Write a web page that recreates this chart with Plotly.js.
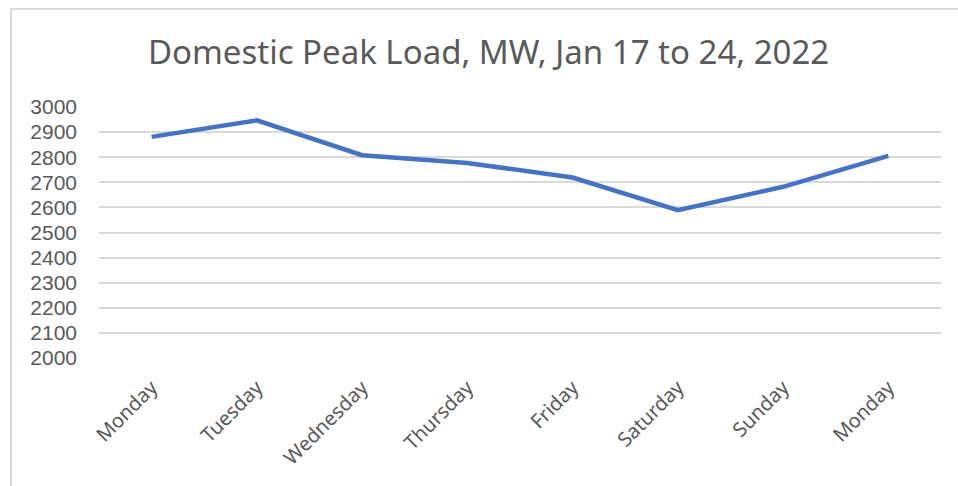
<!DOCTYPE html>
<html>
<head>
<meta charset="utf-8">
<script src="https://cdn.plot.ly/plotly-3.0.1.min.js"></script>
<style>
  html, body { margin: 0; padding: 0; width: 958px; height: 486px; overflow: hidden; background: #fff; }
  #chart { position: absolute; left: 0; top: 0; width: 958px; height: 486px; }
  #frame { position: absolute; left: 10px; top: 8px; width: 1100px; height: 700px; border: 2px solid #d9d9d9; pointer-events: none; box-sizing: border-box; }
</style>
</head>
<body>
<div id="chart"></div>
<div id="frame"></div>
<script>
const days = ["Monday", "Tuesday", "Wednesday", "Thursday", "Friday", "Saturday", "Sunday", "Monday"];
const peakLoad = [2881, 2947, 2808, 2777, 2719, 2589, 2682, 2805];
const yTicks = [2000, 2100, 2200, 2300, 2400, 2500, 2600, 2700, 2800, 2900, 3000];
const chartTitle = "Domestic Peak Load, MW, Jan 17 to 24, 2022";

const xIdx = days.map((d, i) => i);

const trace = {
  x: xIdx,
  y: peakLoad,
  type: "scatter",
  mode: "lines",
  line: { color: "#4472C4", width: 4.5 },
  hoverinfo: "skip"
};

const layout = {
  width: 958,
  height: 486,
  paper_bgcolor: "rgba(0,0,0,0)",
  plot_bgcolor: "#ffffff",
  margin: { l: 99, r: 17, t: 107, b: 128 },
  font: { family: "Noto Sans, sans-serif", color: "#595959", size: 21 },
  title: {
    text: chartTitle,
    font: { family: "Noto Sans, sans-serif", size: 33, color: "#595959" },
    x: 0.51,
    xref: "container",
    xanchor: "center",
    y: 1 - 52 / 486,
    yref: "container",
    yanchor: "middle"
  },
  showlegend: false,
  xaxis: {
    range: [-0.5, 7.5],
    tickmode: "array",
    tickvals: xIdx,
    ticktext: days,
    tickangle: -45,
    showgrid: false,
    zeroline: false,
    showline: false,
    ticks: "",
    ticklabelstandoff: 13,
    tickfont: { size: 20, color: "#595959" },
    fixedrange: true
  },
  yaxis: {
    range: [2000, 3000],
    tickmode: "array",
    tickvals: yTicks,
    ticktext: yTicks.map(String),
    showgrid: true,
    gridcolor: "#d9d9d9",
    gridwidth: 2,
    zeroline: false,
    showline: false,
    ticks: "",
    ticklabelstandoff: 21,
    tickfont: { family: "Liberation Sans, Arial, sans-serif", size: 21, color: "#595959" },
    fixedrange: true
  }
};

Plotly.newPlot("chart", [trace], layout, { displayModeBar: false, staticPlot: true });
</script>
</body>
</html>
